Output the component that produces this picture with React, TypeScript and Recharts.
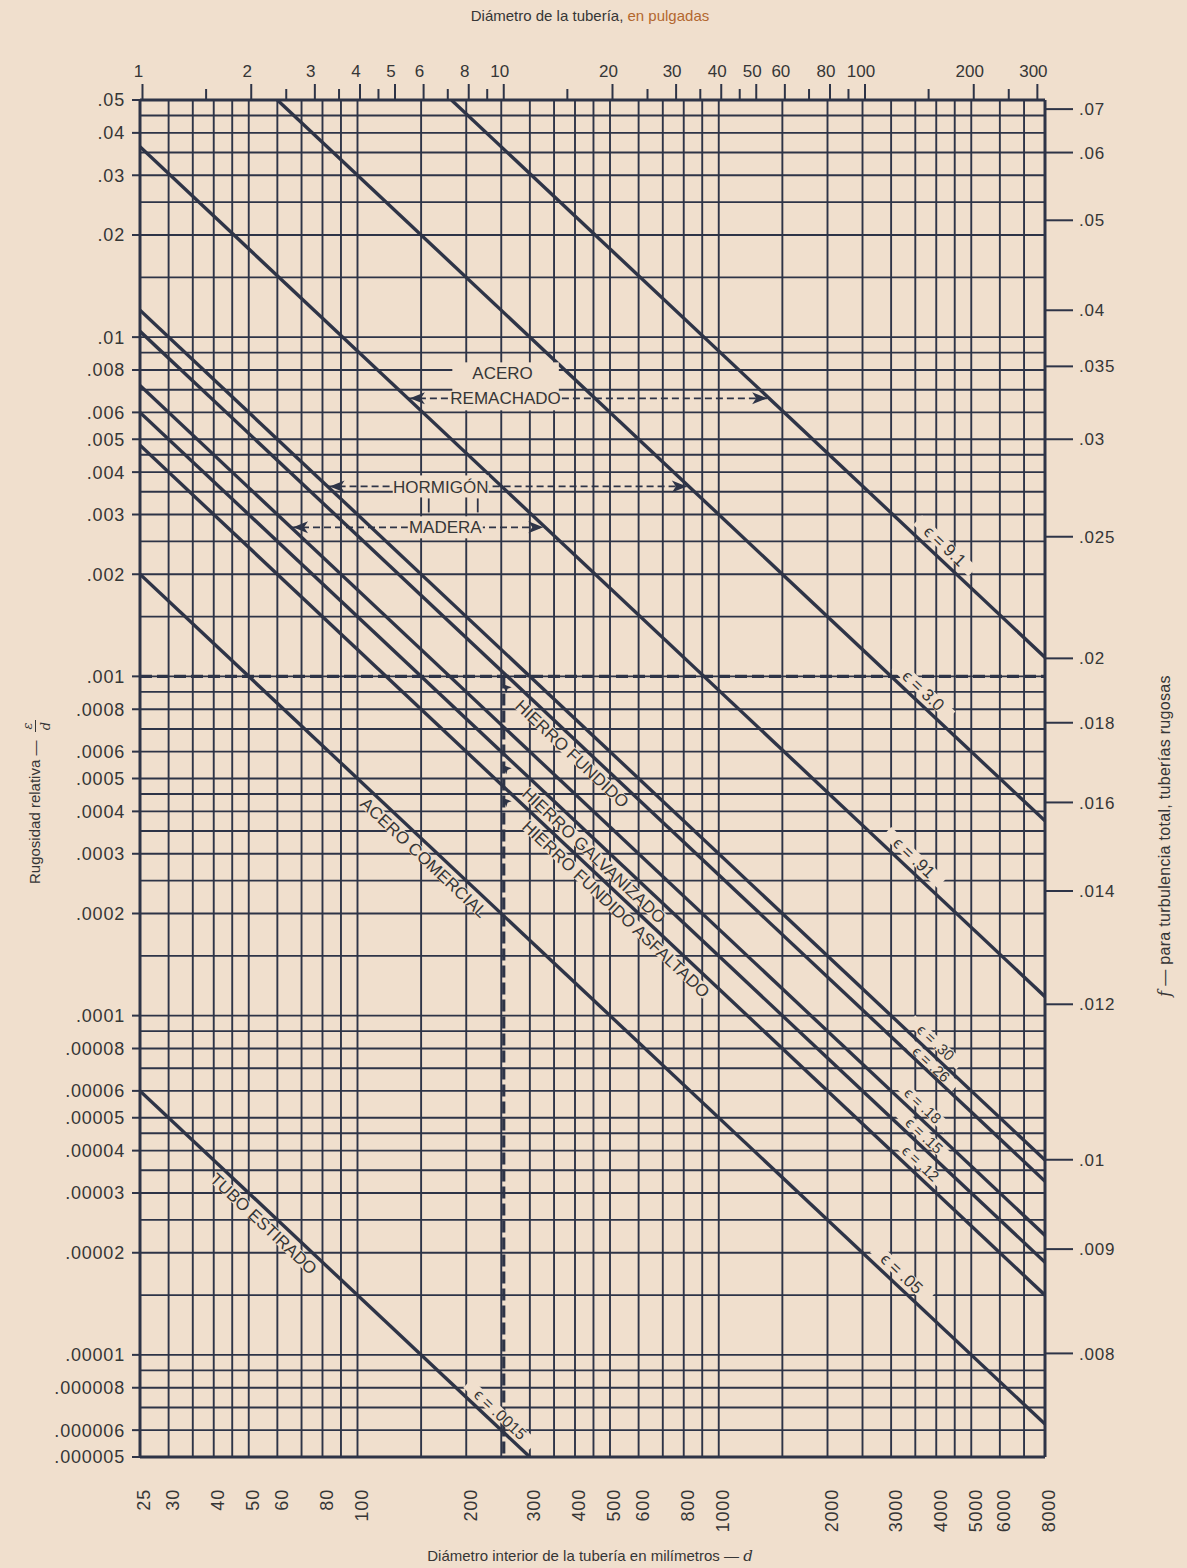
import React from "react";
import {
  ComposedChart,
  Line,
  XAxis,
  YAxis,
  ReferenceLine,
  ReferenceDot,
} from "recharts";

const W = 1187;
const H = 1568;
const BG = "#f0dfcd";
const INK = "#2e3447";
const TEXT = "#363636";
const FONT = "'Liberation Sans', Arial, Helvetica, sans-serif";

// diámetro interior en mm (eje inferior)
const mmTicks = [25, 30, 40, 50, 60, 80, 100, 200, 300, 400, 500, 600, 800, 1000, 2000, 3000, 4000, 5000, 6000, 8000];
const mmGrid = [30, 35, 40, 45, 50, 60, 70, 80, 90, 100, 150, 200, 250, 300, 350, 400, 450, 500, 600, 700, 800, 900, 1000, 1500, 2000, 2500, 3000, 3500, 4000, 4500, 5000, 6000, 7000];

// diámetro en pulgadas (eje superior)
const inchMajor = [1, 2, 3, 4, 5, 6, 8, 10, 20, 30, 40, 50, 60, 80, 100, 200, 300];
const inchMinor = [1.5, 2.5, 3.5, 4.5, 7, 9, 15, 25, 35, 45, 70, 90, 150, 250];

// rugosidad relativa (eje izquierdo)
const rrTicks = [0.05, 0.04, 0.03, 0.02, 0.01, 0.008, 0.006, 0.005, 0.004, 0.003, 0.002, 0.001, 0.0008, 0.0006, 0.0005, 0.0004, 0.0003, 0.0002, 0.0001, 0.00008, 0.00006, 0.00005, 0.00004, 0.00003, 0.00002, 0.00001, 0.000008, 0.000006, 0.000005];
const rrLabels = [".05", ".04", ".03", ".02", ".01", ".008", ".006", ".005", ".004", ".003", ".002", ".001", ".0008", ".0006", ".0005", ".0004", ".0003", ".0002", ".0001", ".00008", ".00006", ".00005", ".00004", ".00003", ".00002", ".00001", ".000008", ".000006", ".000005"];
const gridMantissa = [1, 1.5, 2, 2.5, 3, 3.5, 4, 4.5, 5, 6, 7, 8, 9];
const gridDecades = [0.000001, 0.00001, 0.0001, 0.001, 0.01];

const fLabels = [".07", ".06", ".05", ".04", ".035", ".03", ".025", ".02", ".018", ".016", ".014", ".012", ".01", ".009", ".008"];
const fAtRR = [0.047, 0.035, 0.0221, 0.012, 0.0082, 0.005, 0.00258, 0.00113, 0.00073, 0.000425, 0.000233, 0.000108, 0.0000376, 0.0000205, 0.0000101];

// rectas de rugosidad absoluta ε (mm)
const epsValues = [9.1, 3.0, 0.91, 0.3, 0.26, 0.18, 0.15, 0.12, 0.05, 0.0015];
const epsLabels = ["9.1", "3.0", ".91", ".30", ".26", ".18", ".15", ".12", ".05", ".0015"];
const lineStartD = [182, 60, 25, 25, 25, 25, 25, 25, 25, 25];
const lineStartRR = [0.05, 0.05, 0.0364, 0.012, 0.0104, 0.0072, 0.006, 0.0048, 0.002, 0.00006];
const lineEndD = [8000, 8000, 8000, 8000, 8000, 8000, 8000, 8000, 8000, 300];
const lineEndRR = [0.0011375, 0.000375, 0.00011375, 0.0000375, 0.0000325, 0.0000225, 0.00001875, 0.000015, 0.00000625, 0.000005];
const epsLabelD = [4000, 3500, 3300, 3800, 3750, 3500, 3550, 3450, 3050, 237];
const epsLabelOff = [13, 12, 12, 11, 7.5, 11, 9.8, 11, 12, 11];
const epsLabelSize = [17, 17, 17, 15, 15, 15, 15, 15, 17, 16];

// materiales escritos a lo largo de las rectas
const matNames = ["HIERRO FUNDIDO", "HIERRO GALVANIZADO", "HIERRO FUNDIDO ASFALTADO", "ACERO COMERCIAL", "TUBO ESTIRADO"];
const matEps = [0.26, 0.15, 0.12, 0.05, 0.0015];
const matD = [414, 476, 548, 161, 58];
const matPointer = [true, true, true, false, false];

// rangos con flechas
const rangeNames = ["REMACHADO", "HORMIGÓN", "MADERA"];
const rangeRR = [0.0066, 0.00363, 0.00275];
const rangeTextD = [257, 170, 175];
const rangeLowEps = [0.91, 0.3, 0.18];
const rangeHighEps = [9.1, 3.0, 0.91];

const M = { top: 100, right: 82, bottom: 81, left: 80 };
const PLOT_W = 1045 - 140;
const PLOT_H = 1457 - 100;
const ANG = (Math.atan2(PLOT_H / 4, PLOT_W / Math.log10(8000 / 25)) * 180) / Math.PI;
const RAD = (ANG * Math.PI) / 180;

const gridRR = gridDecades
  .flatMap((dec) => gridMantissa.map((m) => +(m * dec).toPrecision(3)))
  .filter((v) => v > 0.000005 && v < 0.05);

const shift = (cx: number, cy: number, off: number) => [cx + off * Math.sin(RAD), cy - off * Math.cos(RAD)];

const SlopeText = ({ cx, cy, text, off, size }: any) => {
  const [x, y] = shift(cx, cy, off);
  const w = text.length * size * 0.6 + 4;
  return (
    <g transform={`translate(${x},${y}) rotate(${ANG})`}>
      <rect x={-w / 2} y={-size * 0.38} width={w} height={size * 0.76} fill={BG} />
      <text textAnchor="middle" dy="0.36em" fontSize={size} fill={TEXT} fontFamily={FONT}>
        {text}
      </text>
    </g>
  );
};

// pequeña flecha que señala el cruce con la recta de 10 pulgadas
const Pointer = ({ cx, cy }: any) => {
  const [x, y] = shift(cx, cy, -9);
  return (
    <g transform={`translate(${x},${y}) rotate(${ANG + 180})`}>
      <polygon points="0,0 -9,-4 -7,0 -9,4" fill={INK} />
    </g>
  );
};

const Arrow = ({ cx, cy, dir }: any) => {
  // dir -1: apunta a la izquierda, 1: a la derecha
  const s = -dir;
  return (
    <polygon
      points={`${cx},${cy} ${cx + s * 15},${cy - 6} ${cx + s * 11},${cy} ${cx + s * 15},${cy + 6}`}
      fill={INK}
    />
  );
};

const LeftTick = ({ x, y, payload }: any) => {
  const i = rrTicks.indexOf(payload.value);
  return (
    <g>
      <line x1={x - 8} x2={x} y1={y} y2={y} stroke={INK} strokeWidth={2} />
      <text x={x - 15} y={y} dy="0.36em" textAnchor="end" fontSize={18} letterSpacing={0.8} fill={TEXT} fontFamily={FONT}>
        {i >= 0 ? rrLabels[i] : ""}
      </text>
    </g>
  );
};

const RightTick = ({ x, y, payload }: any) => {
  const i = fAtRR.indexOf(payload.value);
  return (
    <g>
      <line x1={x} x2={x + 28} y1={y} y2={y} stroke={INK} strokeWidth={2} />
      <text x={x + 34} y={y} dy="0.36em" textAnchor="start" fontSize={17} letterSpacing={0.8} fill={TEXT} fontFamily={FONT}>
        {i >= 0 ? fLabels[i] : ""}
      </text>
    </g>
  );
};

const TopMark = ({ cx, cy, inch }: any) => {
  const major = inchMajor.includes(inch);
  return (
    <g>
      <line x1={cx} x2={cx} y1={cy} y2={cy - (major ? 16 : 11)} stroke={INK} strokeWidth={2} />
      {major && (
        <text x={cx - 4} y={cy - 23} textAnchor="middle" fontSize={17} fill={TEXT} fontFamily={FONT}>
          {String(inch)}
        </text>
      )}
    </g>
  );
};

const BottomTick = ({ x, y, payload }: any) => (
  <text
    transform={`translate(${x + 4},${y + 32}) rotate(-90)`}
    dy="0.36em"
    textAnchor="end"
    fontSize={18}
    letterSpacing={0.8}
    fill={TEXT}
    fontFamily={FONT}
  >
    {String(payload.value)}
  </text>
);

export default function App() {
  return (
    <div style={{ position: "absolute", left: 0, top: 0, width: W, height: H, background: BG, fontFamily: FONT }}>
      <ComposedChart width={W} height={H} margin={M}>
        <XAxis
          dataKey="d"
          type="number"
          scale="log"
          domain={[25, 8000]}
          allowDataOverflow
          ticks={mmTicks}
          interval={0}
          tick={<BottomTick />}
          tickSize={0}
          tickMargin={0}
          tickLine={false}
          axisLine={false}
          height={30}
        />
        <YAxis
          yAxisId={0}
          type="number"
          scale="log"
          domain={[0.000005, 0.05]}
          allowDataOverflow
          ticks={rrTicks}
          interval={0}
          tick={<LeftTick />}
          tickSize={0}
          tickMargin={0}
          tickLine={false}
          axisLine={false}
          width={60}
        />
        <YAxis
          yAxisId="right"
          orientation="right"
          type="number"
          scale="log"
          domain={[0.000005, 0.05]}
          allowDataOverflow
          ticks={fAtRR}
          interval={0}
          tick={<RightTick />}
          tickSize={0}
          tickMargin={0}
          tickLine={false}
          axisLine={false}
          width={60}
        />

        {mmGrid.map((v) => (
          <ReferenceLine key={"gx" + v} x={v} stroke={INK} strokeWidth={1.9} />
        ))}
        {gridRR.map((v) => (
          <ReferenceLine key={"gy" + v} y={v} stroke={INK} strokeWidth={1.9} />
        ))}
        <ReferenceLine x={25} stroke={INK} strokeWidth={3} />
        <ReferenceLine x={8000} stroke={INK} strokeWidth={3} />
        <ReferenceLine y={0.05} stroke={INK} strokeWidth={3} />
        <ReferenceLine y={0.000005} stroke={INK} strokeWidth={3} />

        <ReferenceLine y={0.001} stroke={INK} strokeWidth={3.2} strokeDasharray="12 5" />
        <ReferenceLine
          segment={[
            { x: 254, y: 0.001 },
            { x: 254, y: 0.000005 },
          ]}
          stroke={INK}
          strokeWidth={3.2}
          strokeDasharray="12 5"
        />

        {rangeNames.map((n, i) => (
          <ReferenceLine
            key={"lead" + n}
            segment={[
              { x: rangeLowEps[i] / rangeRR[i], y: rangeRR[i] },
              { x: rangeHighEps[i] / rangeRR[i], y: rangeRR[i] },
            ]}
            stroke={INK}
            strokeWidth={1.8}
            strokeDasharray="7 4"
          />
        ))}

        {[...inchMajor, ...inchMinor].map((v) => (
          <ReferenceDot
            key={"in" + v}
            x={v * 25.4}
            y={0.05}
            r={1}
            ifOverflow="visible"
            shape={(p: any) => <TopMark cx={p.cx} cy={p.cy} inch={v} />}
          />
        ))}

        {rangeNames.map((n, i) => (
          <ReferenceDot
            key={"rt" + n}
            x={rangeTextD[i]}
            y={rangeRR[i]}
            r={1}
            ifOverflow="visible"
            shape={(p: any) => (
              <g>
                <rect x={p.cx - (n.length * 10.5) / 2 - 6} y={p.cy - (i === 0 ? 36 : 11)} width={n.length * 10.5 + 12} height={i === 0 ? 48 : 22} fill={BG} />
                {i === 0 && (
                  <text x={p.cx - 3} y={p.cy - 25} dy="0.36em" textAnchor="middle" fontSize={17} fill={TEXT} fontFamily={FONT}>
                    ACERO
                  </text>
                )}
                <text x={p.cx} y={p.cy} dy="0.36em" textAnchor="middle" fontSize={17} fill={TEXT} fontFamily={FONT}>
                  {n}
                </text>
                {i === 1 && (
                  <g stroke={INK} strokeWidth={1.8}>
                    <line x1={p.cx - 12} x2={p.cx - 12} y1={p.cy + 12} y2={p.cy + 26} />
                    <line x1={p.cx + 37} x2={p.cx + 37} y1={p.cy + 12} y2={p.cy + 26} />
                  </g>
                )}
              </g>
            )}
          />
        ))}
        {rangeNames.map((n, i) => (
          <ReferenceDot
            key={"al" + n}
            x={rangeLowEps[i] / rangeRR[i]}
            y={rangeRR[i]}
            r={1}
            shape={(p: any) => <Arrow cx={p.cx + 2} cy={p.cy} dir={-1} />}
          />
        ))}
        {rangeNames.map((n, i) => (
          <ReferenceDot
            key={"ar" + n}
            x={rangeHighEps[i] / rangeRR[i]}
            y={rangeRR[i]}
            r={1}
            shape={(p: any) => <Arrow cx={p.cx - 2} cy={p.cy} dir={1} />}
          />
        ))}

        {matNames.map((n, i) => (
          <ReferenceDot
            key={"mat" + n}
            x={matD[i]}
            y={matEps[i] / matD[i]}
            r={1}
            ifOverflow="visible"
            shape={(p: any) => <SlopeText cx={p.cx} cy={p.cy} text={n} off={-12} size={17} />}
          />
        ))}
        {matNames.map((n, i) =>
          matPointer[i] ? (
            <ReferenceDot
              key={"ptr" + n}
              x={262}
              y={matEps[i] / 262}
              r={1}
              ifOverflow="visible"
              shape={(p: any) => <Pointer cx={p.cx} cy={p.cy} />}
            />
          ) : null
        )}
        {epsValues.map((e, i) => (
          <ReferenceDot
            key={"el" + e}
            x={epsLabelD[i]}
            y={e / epsLabelD[i]}
            r={1}
            ifOverflow="visible"
            shape={(p: any) => (
              <SlopeText cx={p.cx} cy={p.cy} text={"ϵ = " + epsLabels[i]} off={epsLabelOff[i]} size={epsLabelSize[i]} />
            )}
          />
        ))}

        {epsValues.map((e, i) => (
          <Line
            key={"eps" + e}
            data={[
              { d: lineStartD[i], rr: lineStartRR[i] },
              { d: lineEndD[i], rr: lineEndRR[i] },
            ]}
            dataKey="rr"
            type="linear"
            stroke={INK}
            strokeWidth={3.4}
            dot={false}
            activeDot={false}
            isAnimationActive={false}
          />
        ))}
      </ComposedChart>

      <svg width={W} height={H} style={{ position: "absolute", left: 0, top: 0, pointerEvents: "none" }} fontFamily={FONT}>
        <text x={590} y={21} textAnchor="middle" fontSize={15} fill={TEXT}>
          Diámetro de la tubería, <tspan fill="#b3672f">en pulgadas</tspan>
        </text>
        <text x={590} y={1561} textAnchor="middle" fontSize={15} fill={TEXT}>
          Diámetro interior de la tubería en milímetros — <tspan fontStyle="italic" fontFamily="'DejaVu Serif', serif">d</tspan>
        </text>
        <g transform="translate(40,884) rotate(-90)">
          <text x={0} y={0} fontSize={15} fill={TEXT}>
            Rugosidad relativa —
          </text>
          <text x={158} y={-8} textAnchor="middle" fontSize={13} fontStyle="italic" fontFamily="'DejaVu Serif', serif" fill={TEXT}>
            ε
          </text>
          <line x1={152} x2={164} y1={-4.5} y2={-4.5} stroke={TEXT} strokeWidth={1} />
          <text x={158} y={10} textAnchor="middle" fontSize={13} fontStyle="italic" fontFamily="'DejaVu Serif', serif" fill={TEXT}>
            d
          </text>
        </g>
        <g transform="translate(1170,836) rotate(-90)">
          <text x={0} y={0} textAnchor="middle" fontSize={16} letterSpacing={0.3} fill={TEXT}>
            <tspan fontStyle="italic" fontFamily="'DejaVu Serif', serif">f</tspan> — para turbulencia total, tuberías rugosas
          </text>
        </g>
      </svg>
    </div>
  );
}
